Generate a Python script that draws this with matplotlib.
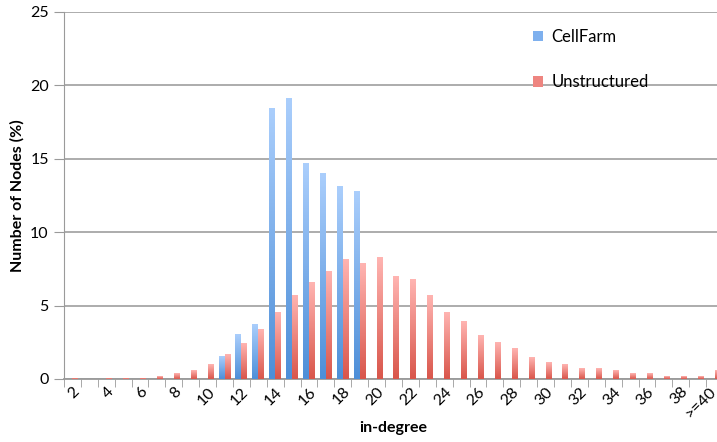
import numpy as np
import matplotlib.pyplot as plt
import matplotlib.transforms as mtrans
from matplotlib.colors import LinearSegmentedColormap
from matplotlib.patches import Patch

# in-degree categories
categorias = [str(i) for i in range(2, 40)] + [">=40"]
rotulos = [c if i % 2 == 0 else "" for i, c in enumerate(categorias)]

cellfarm = [0, 0, 0, 0, 0, 0, 0, 0, 0, 1.5, 3.0, 3.7, 18.4, 19.1, 14.7, 14.0, 13.1, 12.8,
            0, 0, 0, 0, 0, 0, 0, 0, 0, 0, 0, 0, 0, 0, 0, 0, 0, 0, 0, 0, 0]
unstructured = [0.05, 0, 0.05, 0.05, 0.05, 0.15, 0.35, 0.6, 1.0, 1.7, 2.4, 3.4, 4.5, 5.7,
                6.55, 7.35, 8.15, 7.9, 8.25, 7.0, 6.75, 5.7, 4.55, 3.95, 2.95, 2.5, 2.05,
                1.45, 1.1, 1.0, 0.7, 0.7, 0.55, 0.35, 0.35, 0.2, 0.2, 0.15, 0.6]

fonte = "Lato"
plt.rcParams["font.family"] = [fonte, "DejaVu Sans"]

fig = plt.figure(figsize=(7.17, 4.42), dpi=100)
ax = fig.add_axes([64 / 717, 63 / 442, 659 / 717, 367 / 442])

x = np.arange(len(categorias))
w = 0.355
b1 = ax.bar(x - w / 2, cellfarm, w, color="none", zorder=3)
b2 = ax.bar(x + w / 2, unstructured, w, color="none", zorder=3)

azul = LinearSegmentedColormap.from_list("azul", ["#4e8fd8", "#aacefc"])
vermelho = LinearSegmentedColormap.from_list("verm", ["#d9564b", "#ffb4b1"])
grad = np.linspace(0, 1, 100).reshape(-1, 1)

def gradiente(barras, cmap):
    for r in barras:
        h = r.get_height()
        if h <= 0:
            continue
        x0 = r.get_x()
        ax.imshow(grad, extent=[x0, x0 + r.get_width(), 0, h], origin="lower",
                  aspect="auto", cmap=cmap, zorder=3)

gradiente(b1, azul)
gradiente(b2, vermelho)

ax.set_xlim(-0.5, len(categorias) - 0.5)
ax.set_ylim(0, 25)
ax.set_yticks([0, 5, 10, 15, 20, 25])
ax.yaxis.grid(True, color="#a6a6a6", linewidth=1.3, zorder=0)
ax.set_axisbelow(True)

for s in ["top", "right"]:
    ax.spines[s].set_visible(False)
ax.spines["left"].set_color("#9a9a9a")
ax.spines["bottom"].set_color("#9a9a9a")
ax.spines["bottom"].set_linewidth(1.3)

ax.tick_params(axis="y", length=7, color="#9a9a9a", labelsize=11.5, pad=4)
ax.set_xticks(x)
ax.set_xticklabels(rotulos, rotation=45, ha="right", rotation_mode="anchor", fontsize=11.5)
ax.tick_params(axis="x", which="major", length=0, pad=4)
ax.set_xticks(np.arange(-0.5, len(categorias), 1), minor=True)
ax.tick_params(axis="x", which="minor", length=6, color="#9a9a9a")

# last label pulled in a bit so it stays inside the image
ultimo = ax.get_xticklabels()[-1]
ultimo.set_transform(ultimo.get_transform() + mtrans.ScaledTranslation(-6 / 100, 0, fig.dpi_scale_trans))

ax.set_ylabel("Number of Nodes (%)", fontsize=11.5, fontweight="bold", labelpad=4)
ax.set_xlabel("in-degree", fontsize=11.5, fontweight="bold", labelpad=0)

legenda = [Patch(facecolor="#7eb0ee", label="CellFarm"),
           Patch(facecolor="#ee8580", label="Unstructured")]
ax.legend(handles=legenda, loc="upper left", bbox_to_anchor=(528 / 717, 1 - 24 / 442),
          bbox_transform=fig.transFigure, frameon=False, fontsize=12,
          handlelength=0.6, handleheight=0.6, handletextpad=0.5, labelspacing=1.75,
          borderaxespad=0, borderpad=0.3)

plt.savefig("out.png", dpi=100)
